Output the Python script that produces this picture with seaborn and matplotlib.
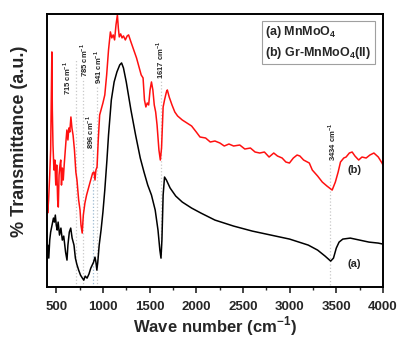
import matplotlib
matplotlib.use("Agg")
import matplotlib.pyplot as plt
import seaborn as sns
from matplotlib.ticker import MultipleLocator

# FTIR spectra, y in arbitrary transmittance units
wn_a = [400, 410, 420, 430, 440, 455, 470, 480, 490, 500, 510, 520, 535, 550, 565, 580,
        600, 615, 625, 640, 655, 670, 690, 705, 720, 740, 760, 780, 795, 810, 830, 850,
        870, 885, 900, 915, 925, 935, 945, 960, 980, 1000, 1020, 1043, 1060, 1090, 1120,
        1150, 1180, 1200, 1220, 1250, 1300, 1350, 1400, 1440, 1480, 1520, 1560, 1590,
        1610, 1622, 1632, 1645, 1660, 1680, 1720, 1780, 1850, 1950, 2050, 2200, 2400,
        2600, 2800, 3000, 3100, 3200, 3300, 3380, 3440, 3470, 3500, 3530, 3570, 3650,
        3750, 3850, 3950, 4000]
px_a = [262, 245, 258, 240, 232, 225, 218, 222, 215, 225, 230, 222, 235, 228, 240, 236,
        252, 260, 245, 232, 228, 238, 245, 258, 264, 270, 275, 278, 280, 276, 278, 274,
        268, 265, 262, 257, 262, 270, 262, 245, 230, 212, 190, 160, 135, 100, 82,
        72, 65, 63, 68, 82, 110, 135, 158, 172, 185, 195, 210, 230,
        250, 258, 240, 195, 177, 180, 188, 196, 202, 208, 213, 220, 226,
        231, 235, 239, 242, 245, 250, 256, 261, 258, 248, 242, 239, 238,
        240, 242, 243, 244]

wn_b = [400, 408, 418, 430, 440, 447, 453, 458, 465, 475, 485, 495, 505, 515, 522, 530,
        540, 548, 556, 565, 575, 585, 595, 605, 614, 625, 635, 645, 657, 668, 680, 695,
        710, 722, 740, 755, 765, 778, 790, 807, 825, 845, 860, 875, 890, 905, 915, 925,
        937, 950, 965, 985, 1000, 1020, 1040, 1060, 1080, 1095, 1110, 1125, 1140, 1155,
        1165, 1175, 1190, 1205, 1220, 1240, 1260, 1275, 1300, 1330, 1360, 1390, 1410,
        1430, 1445, 1460, 1475, 1490, 1505, 1520, 1535, 1550, 1565, 1580, 1600, 1615,
        1628, 1645, 1660, 1680, 1690, 1710, 1740, 1770, 1800, 1850, 1900, 1950, 2000,
        2040, 2100, 2150, 2200, 2253, 2300, 2350, 2400, 2466, 2520, 2580, 2630, 2680,
        2730, 2780, 2830, 2870, 2920, 2960, 2998, 3040, 3080, 3110, 3150, 3211, 3243,
        3300, 3350, 3400, 3456, 3490, 3520, 3545, 3580, 3605, 3640, 3670, 3700, 3740,
        3775, 3820, 3860, 3903, 3950, 3990, 4000]
px_b = [190, 213, 200, 175, 150, 100, 52, 110, 145, 170, 160, 185, 165, 200, 207, 175,
        165, 160, 185, 168, 180, 165, 152, 140, 130, 140, 128, 132, 117, 128, 135, 150,
        172, 180, 200, 210, 225, 233, 215, 203, 195, 188, 183, 178, 173, 172, 180, 170,
        167, 140, 115, 108, 103, 95, 75, 50, 32, 38, 35, 40, 25, 15,
        28, 37, 34, 38, 36, 40, 36, 35, 42, 50, 58, 68, 75,
        78, 100, 107, 103, 105, 90, 82, 90, 105, 112, 125, 150, 160,
        148, 107, 100, 92, 90, 97, 105, 112, 116, 120, 123, 126, 132,
        137, 138, 142, 141, 143, 146, 144, 146, 145, 149, 148, 152, 153,
        152, 157, 153, 156, 158, 162, 163, 158, 155, 156, 160, 163, 170,
        176, 182, 186, 190, 182, 172, 162, 158, 157, 153, 152, 156, 160,
        157, 158, 155, 153, 157, 163, 165]

trans_a = [300 - p for p in px_a]
trans_b = [300 - p for p in px_b]

peaks = [715, 785, 896, 941, 1617, 3434]
peak_labels = ["715 cm$^{\\mathbf{-1}}$", "785 cm$^{\\mathbf{-1}}$", "896 cm$^{\\mathbf{-1}}$",
               "941 cm$^{\\mathbf{-1}}$", "1617 cm$^{\\mathbf{-1}}$", "3434 cm$^{\\mathbf{-1}}$"]

sns.set_style("ticks")
plt.rcParams['font.family'] = ['Liberation Sans', 'DejaVu Sans']
plt.rcParams['font.weight'] = 'bold'
plt.rcParams['mathtext.fontset'] = 'custom'
plt.rcParams['mathtext.rm'] = 'Liberation Sans:bold'
plt.rcParams['mathtext.bf'] = 'Liberation Sans:bold'

fig = plt.figure(figsize=(4.01, 3.39), dpi=100)
ax = fig.add_axes([0.117, 0.153, 0.838, 0.806])

sns.lineplot(x=wn_a, y=trans_a, color="black", lw=1.1, sort=False, estimator=None, ax=ax)
sns.lineplot(x=wn_b, y=trans_b, color="#ff1010", lw=1.1, sort=False, estimator=None, ax=ax)

ax.set_xlim(400, 4000)
ax.set_ylim(13, 286)

# dotted marker lines and labels (positions in the same arbitrary units)
line_top = [300 - 60, 300 - 78, 300 - 150, 300 - 85, 300 - 80, 300 - 164]
line_bot = [13, 13, 13, 13, 300 - 258, 300 - 285]
line_col = ["#c8c8c8", "#c8c8c8", "#9ab8d0", "#c8c8c8", "#c8c8c8", "#c8c8c8"]
lab_x = [620, 795, 865, 950, 1615, 3450]
lab_y = [300 - 78, 300 - 60, 300 - 132, 300 - 67, 300 - 60, 300 - 142]
for p, t, b, c, lx, ly, s in zip(peaks, line_top, line_bot, line_col, lab_x, lab_y, peak_labels):
    ax.vlines(p, b, t, colors=c, linestyles=":", lw=0.9, zorder=0)
    ax.text(lx, ly, s, rotation=90, ha="center", va="center", fontsize=5.5,
            fontweight="bold")

ax.text(3690, 300 - 170, "(b)", ha="center", va="center", fontsize=8, fontweight="bold")
ax.text(3690, 300 - 264, "(a)", ha="center", va="center", fontsize=8, fontweight="bold")

ax.text(0.650, 0.962, "(a) MnMoO$_{\\mathbf{4}}$\n(b) Gr-MnMoO$_{\\mathbf{4}}$(II)",
        transform=ax.transAxes, ha="left", va="top", fontsize=9, fontweight="bold",
        linespacing=1.4,
        bbox=dict(boxstyle="square,pad=0.25", fc="white", ec="#a0a0a0", lw=0.8))

ax.xaxis.set_major_locator(MultipleLocator(500))
ax.xaxis.set_minor_locator(MultipleLocator(250))
ax.tick_params(axis="x", which="major", direction="out", length=4, width=1.2,
               labelsize=9.5, pad=6)
ax.tick_params(axis="x", which="minor", direction="out", length=2.5, width=1.0)
ax.set_yticks([])
for lbl in ax.get_xticklabels():
    lbl.set_fontweight("bold")
for sp in ax.spines.values():
    sp.set_linewidth(1.4)
    sp.set_color("black")

ax.set_xlabel("Wave number (cm$^{\\mathbf{-1}}$)", fontsize=12, fontweight="bold", labelpad=1)
ax.set_ylabel("% Transmittance (a.u.)", fontsize=13, fontweight="bold")
ax.yaxis.set_label_coords(-0.055, 0.533)

fig.savefig("out.png", dpi=100)
